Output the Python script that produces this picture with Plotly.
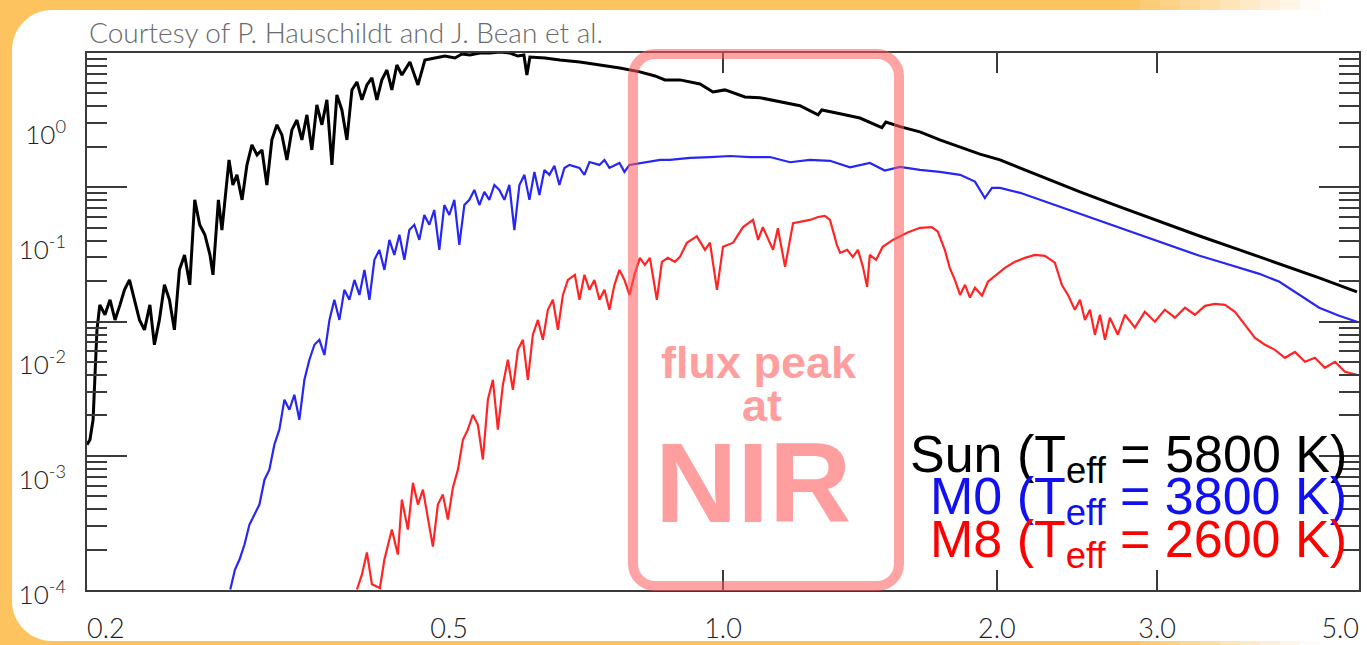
import math
import plotly.graph_objects as go

# ---------------- data (wavelength in micron, flux in arbitrary units) ----------------
sun_wl = [0.2000, 0.2015, 0.2031, 0.2051, 0.2066, 0.2093, 0.2120, 0.2147, 0.2174, 0.2199,
          0.2227, 0.2255, 0.2284, 0.2313, 0.2345, 0.2372, 0.2402, 0.2433, 0.2464, 0.2495,
          0.2527, 0.2560, 0.2594, 0.2627, 0.2660, 0.2695, 0.2730, 0.2751, 0.2789, 0.2814,
          0.2865, 0.2893, 0.2923, 0.2961, 0.2998, 0.3036, 0.3075, 0.3114, 0.3153, 0.3193,
          0.3234, 0.3275, 0.3317, 0.3359, 0.3402, 0.3445, 0.3489, 0.3533, 0.3578, 0.3624,
          0.3670, 0.3717, 0.3764, 0.3812, 0.3861, 0.3910, 0.3960, 0.4010, 0.4061, 0.4113,
          0.4165, 0.4218, 0.4272, 0.4326, 0.4381, 0.4437, 0.4528, 0.4621, 0.4703, 0.4824,
          0.4947, 0.5074, 0.5165, 0.5270, 0.5405, 0.5544, 0.5686, 0.5832, 0.5951, 0.6042,
          0.6088, 0.6135, 0.6372, 0.6618, 0.6961, 0.7323, 0.7703, 0.8103, 0.8420, 0.8633,
          0.8968, 0.9435, 0.9750, 1.005, 1.057, 1.098, 1.155, 1.215, 1.272, 1.284,
          1.345, 1.414, 1.495, 1.510, 1.565, 1.646, 1.731, 1.822, 1.916, 2.016,
          2.231, 2.468, 2.730, 3.020, 3.340, 3.695, 4.088, 4.521, 4.974]
sun_flux = [0.00183, 0.00202, 0.00301, 0.0182, 0.0300, 0.0246, 0.0332, 0.0222, 0.0300, 0.0405,
            0.0494, 0.0332, 0.0222, 0.0182, 0.0300, 0.0135, 0.0222, 0.0448, 0.0332, 0.0182,
            0.0604, 0.0815, 0.0448, 0.245, 0.149, 0.122, 0.0815, 0.0547, 0.245, 0.134,
            0.545, 0.330, 0.404, 0.245, 0.493, 0.735, 0.602, 0.665, 0.330, 0.813,
            1.10, 0.898, 0.545, 0.993, 1.21, 0.813, 1.34, 0.665, 1.64, 1.10,
            1.81, 0.493, 2.00, 1.48, 0.813, 2.21, 2.59, 1.81, 2.44, 2.81,
            1.81, 2.70, 3.29, 2.21, 3.64, 2.98, 3.86, 2.44, 4.02, 4.18,
            4.35, 4.18, 4.53, 4.44, 4.62, 4.62, 4.72, 4.62, 4.35, 4.44,
            2.98, 4.26, 4.18, 4.02, 3.86, 3.64, 3.43, 3.17, 2.92, 2.70,
            2.70, 2.49, 2.12, 2.21, 1.92, 1.89, 1.74, 1.61, 1.34, 1.48,
            1.37, 1.26, 1.04, 1.16, 1.06, 0.954, 0.813, 0.706, 0.612, 0.545,
            0.395, 0.287, 0.213, 0.158, 0.119, 0.0901, 0.0681, 0.0515, 0.0389]

m0_wl = [0.2874, 0.2908, 0.2942, 0.2979, 0.3017, 0.3056, 0.3094, 0.3134, 0.3173, 0.3213,
         0.3254, 0.3296, 0.3338, 0.3380, 0.3423, 0.3467, 0.3511, 0.3556, 0.3601, 0.3647,
         0.3694, 0.3740, 0.3788, 0.3836, 0.3885, 0.3935, 0.3985, 0.4036, 0.4087, 0.4139,
         0.4191, 0.4245, 0.4299, 0.4353, 0.4409, 0.4465, 0.4521, 0.4579, 0.4637, 0.4696,
         0.4756, 0.4816, 0.4878, 0.4940, 0.5003, 0.5067, 0.5131, 0.5197, 0.5263, 0.5330,
         0.5398, 0.5467, 0.5536, 0.5607, 0.5678, 0.5751, 0.5824, 0.5898, 0.5974, 0.6050,
         0.6127, 0.6205, 0.6284, 0.6364, 0.6445, 0.6527, 0.6610, 0.6694, 0.6780, 0.6954,
         0.7042, 0.7132, 0.7315, 0.7408, 0.7502, 0.7695, 0.7793, 0.7892, 0.8206, 0.8530,
         0.8744, 0.9200, 0.9676, 1.018, 1.071, 1.126, 1.185, 1.246, 1.311, 1.379,
         1.450, 1.506, 1.565, 1.646, 1.731, 1.822, 1.892, 1.940, 1.975, 2.016,
         2.121, 2.231, 2.346, 2.468, 2.596, 2.730, 2.871, 3.020, 3.176, 3.340,
         3.514, 3.695, 3.886, 4.088, 4.300, 4.521, 4.755, 4.974]
m0_flux = [0.000101, 0.000150, 0.000184, 0.000247, 0.000370, 0.000452, 0.000552, 0.000908, 0.00111, 0.00183,
           0.00247, 0.00450, 0.00368, 0.00497, 0.00301, 0.00670, 0.0100, 0.0135, 0.0149, 0.0110,
           0.0222, 0.0332, 0.0222, 0.0405, 0.0332, 0.0494, 0.0366, 0.0604, 0.0332, 0.0738,
           0.0901, 0.0604, 0.110, 0.0815, 0.122, 0.0738, 0.134, 0.149, 0.110, 0.181,
           0.149, 0.200, 0.0901, 0.221, 0.181, 0.245, 0.0995, 0.221, 0.245, 0.299,
           0.221, 0.287, 0.245, 0.330, 0.299, 0.245, 0.330, 0.134, 0.330, 0.404,
           0.245, 0.429, 0.270, 0.446, 0.404, 0.484, 0.330, 0.464, 0.493, 0.464,
           0.404, 0.522, 0.493, 0.545, 0.464, 0.513, 0.429, 0.493, 0.522, 0.545,
           0.545, 0.567, 0.577, 0.589, 0.577, 0.577, 0.520, 0.545, 0.535, 0.470,
           0.513, 0.440, 0.474, 0.446, 0.429, 0.404, 0.353, 0.254, 0.311, 0.311,
           0.282, 0.245, 0.213, 0.185, 0.161, 0.140, 0.122, 0.106, 0.0919, 0.0800,
           0.0710, 0.0629, 0.0558, 0.0476, 0.0366, 0.0283, 0.0241, 0.0214]

m8_wl = [0.3960, 0.4010, 0.4061, 0.4113, 0.4197, 0.4245, 0.4326, 0.4392, 0.4437, 0.4505,
         0.4563, 0.4621, 0.4680, 0.4739, 0.4799, 0.4860, 0.4922, 0.4985, 0.5048, 0.5113,
         0.5178, 0.5243, 0.5310, 0.5378, 0.5446, 0.5516, 0.5586, 0.5657, 0.5729, 0.5802,
         0.5876, 0.5951, 0.6027, 0.6103, 0.6181, 0.6260, 0.6339, 0.6420, 0.6502, 0.6585,
         0.6669, 0.6754, 0.6874, 0.6954, 0.7042, 0.7132, 0.7222, 0.7315, 0.7408, 0.7502,
         0.7598, 0.7695, 0.7793, 0.7892, 0.7993, 0.8103, 0.8206, 0.8311, 0.8459, 0.8567,
         0.8698, 0.8853, 0.8968, 0.9126, 0.9360, 0.9555, 0.9676, 0.9849, 1.000, 1.026,
         1.052, 1.079, 1.093, 1.106, 1.135, 1.149, 1.170, 1.194, 1.215, 1.246,
         1.272, 1.294, 1.311, 1.324, 1.334, 1.345, 1.369, 1.389, 1.407, 1.425,
         1.440, 1.450, 1.473, 1.498, 1.537, 1.593, 1.646, 1.696, 1.722, 1.753,
         1.775, 1.798, 1.822, 1.845, 1.868, 1.892, 1.926, 1.955, 1.990, 2.041,
         2.093, 2.147, 2.202, 2.258, 2.316, 2.357, 2.394, 2.436, 2.468, 2.499,
         2.531, 2.563, 2.596, 2.629, 2.662, 2.716, 2.765, 2.836, 2.908, 2.983,
         3.059, 3.138, 3.219, 3.301, 3.386, 3.473, 3.562, 3.653, 3.747, 3.843,
         3.941, 4.042, 4.146, 4.252, 4.361, 4.472, 4.587, 4.705, 4.826, 4.974]
m8_flux = [0.000101, 0.000136, 0.000212, 0.000112, 0.000104, 0.000184, 0.000335, 0.000203, 0.000609, 0.000335,
           0.000853, 0.000552, 0.000744, 0.000409, 0.000238, 0.000552, 0.000674, 0.000409, 0.000774, 0.00111,
           0.00202, 0.00247, 0.00333, 0.00272, 0.00136, 0.00450, 0.00670, 0.00247, 0.00606, 0.0100,
           0.00549, 0.0122, 0.0149, 0.00670, 0.0165, 0.0222, 0.0149, 0.0272, 0.0332, 0.0182,
           0.0366, 0.0494, 0.0547, 0.0332, 0.0547, 0.0405, 0.0494, 0.0332, 0.0405, 0.0272,
           0.0448, 0.0604, 0.0494, 0.0366, 0.0547, 0.0768, 0.0668, 0.0768, 0.0332, 0.0710,
           0.0768, 0.0710, 0.0783, 0.104, 0.118, 0.0901, 0.104, 0.0405, 0.0958, 0.104,
           0.142, 0.164, 0.110, 0.142, 0.0901, 0.139, 0.0641, 0.154, 0.158, 0.164,
           0.174, 0.178, 0.164, 0.122, 0.0995, 0.0848, 0.0901, 0.0783, 0.0901, 0.0641,
           0.0430, 0.0815, 0.0738, 0.0958, 0.110, 0.127, 0.140, 0.142, 0.130, 0.0901,
           0.0629, 0.0494, 0.0366, 0.0448, 0.0347, 0.0422, 0.0360, 0.0476, 0.0536, 0.0629,
           0.0710, 0.0768, 0.0815, 0.0799, 0.0697, 0.0448, 0.0366, 0.0272, 0.0332, 0.0222,
           0.0272, 0.0165, 0.0246, 0.0149, 0.0232, 0.0165, 0.0246, 0.0190, 0.0261, 0.0214,
           0.0272, 0.0232, 0.0283, 0.0246, 0.0294, 0.0306, 0.0300, 0.0261, 0.0201, 0.0155,
           0.0135, 0.0122, 0.0104, 0.0117, 0.00961, 0.0104, 0.00852, 0.00961, 0.00787, 0.00741]

x_label_vals = [0.5, 1.0, 2.0, 3.0]
x_label_text = ["0.5", "1.0", "2.0", "3.0"]
x_first_label = (0.2, "0.2")
x_last_label = (5.0, "5.0")
x_frame_ticks = [1.0, 2.0, 3.0]
y_label_vals = [1e-4, 1e-3, 1e-2, 1e-1, 1.0]
y_label_text = ["10<sup>-4</sup>", "10<sup>-3</sup>", "10<sup>-2</sup>", "10<sup>-1</sup>", "10<sup>0</sup>"]
y_frame_decades = [1e-4, 1e-3, 1e-2, 1e-1, 1.0]
y_frame_minor = [m * d for d in [1e-4, 1e-3, 1e-2, 1e-1] for m in range(2, 10)]

series_names = ["Sun", "M0", "M8"]
series_colors = ["#000000", "#1010f0", "#ff0000"]
legend_text = ["Sun (T<sub>eff</sub> = 5800 K)",
               "M0 (T<sub>eff</sub> = 3800 K)",
               "M8 (T<sub>eff</sub> = 2600 K)"]
credit_text = "Courtesy of P. Hauschildt and J. Bean et al."

# ---------------- geometry ----------------
W, H = 1367, 645
ML, MR, MT, MB = 87, 8, 53, 55
PW, PH = W - ML - MR, H - MT - MB
XR = [math.log10(0.2), math.log10(5.0)]


def fx(px):
    return (px - ML) / PW


def fy(py):
    return (H - MB - py) / PH


def rounded_path(x0, y0, x1, y1, r, right_round=True):
    k = 0.5523 * r

    def P(x, y):
        return f"{fx(x):.5f},{fy(y):.5f}"
    s = f"M {P(x0 + r, y0)} "
    if right_round:
        s += f"L {P(x1 - r, y0)} C {P(x1 - r + k, y0)} {P(x1, y0 + r - k)} {P(x1, y0 + r)} "
        s += f"L {P(x1, y1 - r)} C {P(x1, y1 - r + k)} {P(x1 - r + k, y1)} {P(x1 - r, y1)} "
    else:
        s += f"L {P(x1, y0)} L {P(x1, y1)} "
    s += f"L {P(x0 + r, y1)} C {P(x0 + r - k, y1)} {P(x0, y1 - r + k)} {P(x0, y1 - r)} "
    s += f"L {P(x0, y0 + r)} C {P(x0, y0 + r - k)} {P(x0 + r - k, y0)} {P(x0 + r, y0)} Z"
    return s


fig = go.Figure()
# empty traces that make the frame / edge-label axes exist
for xa, ya in [("x", "y"), ("x3", "y2"), ("x4", "y2")]:
    fig.add_trace(go.Scatter(x=[], y=[], xaxis=xa, yaxis=ya, showlegend=False, hoverinfo="skip"))

for wl, fl, name, color, width, op in [
        (m8_wl, m8_flux, series_names[2], series_colors[2], 2.2, 0.85),
        (m0_wl, m0_flux, series_names[1], series_colors[1], 2.2, 0.9),
        (sun_wl, sun_flux, series_names[0], series_colors[0], 3.0, 1.0)]:
    fig.add_trace(go.Scatter(x=wl, y=fl, name=name, mode="lines",
                             line=dict(color=color, width=width), opacity=op,
                             xaxis="x2", yaxis="y2", showlegend=False))

orange = "#fcc35f"
shapes = []
# orange slide border
shapes.append(dict(type="rect", xref="paper", yref="paper", layer="below",
                   x0=fx(0), x1=fx(1120), y0=fy(H), y1=fy(0),
                   fillcolor=orange, line=dict(width=0)))
nsteps = 10
for i in range(nsteps):
    a = 1 - (i + 0.5) / nsteps
    shapes.append(dict(type="rect", xref="paper", yref="paper", layer="below",
                       x0=fx(1120 + 20 * i), x1=fx(1140 + 20 * i), y0=fy(H), y1=fy(0),
                       fillcolor=orange, opacity=a, line=dict(width=0)))
# white slide panel
shapes.append(dict(type="path", xref="paper", yref="paper", layer="below",
                   path=rounded_path(12, 10, W + 60, 641, 40, right_round=False),
                   fillcolor="white", line=dict(width=0)))
# pink highlight box
shapes.append(dict(type="path", xref="paper", yref="paper", layer="above",
                   path=rounded_path(633, 54, 899, 586, 22),
                   fillcolor="rgba(0,0,0,0)",
                   line=dict(color="rgba(255,90,90,0.55)", width=10)))

frame_color = "#3a3a3a"
label_font = dict(family="Lato", size=27, color="#222222", weight=300)
ylabel_font = dict(family="Lato", size=26, color="#222222", weight=300)

pink = "#ff9e9e"
annotations = [
    dict(text=credit_text, xref="paper", yref="paper", x=fx(87), y=fy(32),
         xanchor="left", yanchor="middle", showarrow=False,
         font=dict(family="Lato", size=28, color="#6a6a6a", weight=300)),
    dict(text="flux peak", xref="paper", yref="paper", x=fx(759), y=fy(362),
         xanchor="center", yanchor="middle", showarrow=False,
         font=dict(family="Liberation Sans", size=45, color=pink, weight="bold")),
    dict(text="at", xref="paper", yref="paper", x=fx(762), y=fy(406),
         xanchor="center", yanchor="middle", showarrow=False,
         font=dict(family="Liberation Sans", size=45, color=pink, weight="bold")),
    dict(text="NIR", xref="paper", yref="paper", x=fx(753), y=fy(482),
         xanchor="center", yanchor="middle", showarrow=False,
         font=dict(family="Liberation Sans", size=114, color=pink, weight="bold")),
]
for txt, col, ypx in zip(legend_text, series_colors, [458, 500, 543]):
    annotations.append(dict(text=txt, xref="paper", yref="paper", x=fx(1349), y=fy(ypx),
                            xanchor="right", yanchor="middle", showarrow=False,
                            font=dict(family="Liberation Sans", size=52, color=col)))

label_axis_common = dict(type="log", range=XR, overlaying="x", anchor="y", side="bottom",
                         ticks="", showline=False, showgrid=False, zeroline=False,
                         tickfont=label_font, ticklabelstandoff=20, ticklabeloverflow="allow",
                         fixedrange=True, automargin=False)

fig.update_layout(
    width=W, height=H, autosize=False,
    margin=dict(l=ML, r=MR, t=MT, b=MB, pad=0),
    paper_bgcolor="white", plot_bgcolor="rgba(0,0,0,0)",
    showlegend=False,
    shapes=shapes, annotations=annotations,
    xaxis=dict(type="log", range=XR, tickvals=x_frame_ticks, ticks="inside", ticklen=20,
               tickwidth=2, tickcolor=frame_color, showticklabels=False, showline=True,
               linecolor=frame_color, linewidth=2, mirror="ticks", showgrid=False,
               zeroline=False, fixedrange=True, automargin=False),
    yaxis=dict(type="log", range=[-4, 0], tickvals=y_frame_decades, ticks="inside", ticklen=40,
               tickwidth=2, tickcolor=frame_color, showticklabels=False, showline=True,
               linecolor=frame_color, linewidth=2, mirror="ticks", showgrid=False,
               zeroline=False, fixedrange=True, automargin=False,
               minor=dict(tickvals=y_frame_minor, ticks="inside", ticklen=20, tickwidth=2,
                          tickcolor=frame_color, showgrid=False)),
    xaxis2=dict(label_axis_common, tickvals=x_label_vals, ticktext=x_label_text),
    xaxis3=dict(label_axis_common, tickvals=[x_first_label[0]], ticktext=[x_first_label[1]],
                ticklabelposition="outside right"),
    xaxis4=dict(label_axis_common, tickvals=[x_last_label[0]], ticktext=[x_last_label[1]],
                ticklabelposition="outside left"),
    yaxis2=dict(type="log", range=[-4, 0.665], overlaying="y", anchor="x", side="left",
                tickvals=y_label_vals, ticktext=y_label_text, ticks="", showline=False,
                showgrid=False, zeroline=False, tickfont=ylabel_font, ticklabelstandoff=20,
                ticklabelshift=5, ticklabeloverflow="allow", fixedrange=True,
                automargin=False),
)

fig.write_html("out.html")
